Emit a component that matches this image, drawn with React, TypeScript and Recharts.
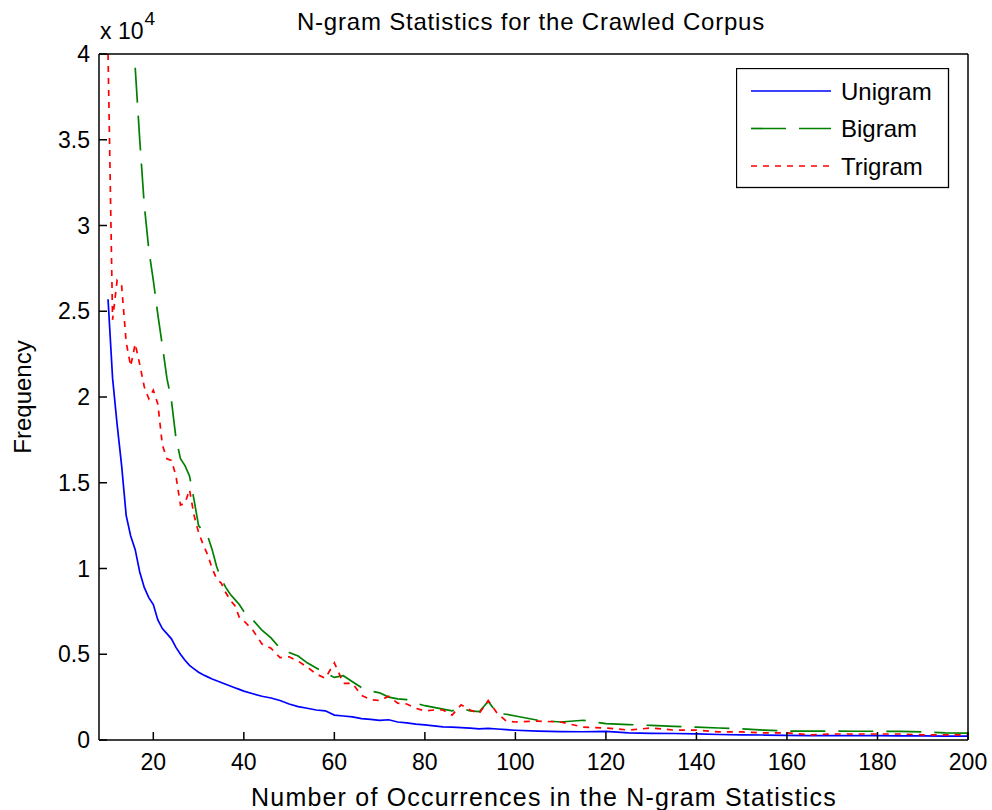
import React from "react";
import { LineChart, Line, XAxis, YAxis, Legend } from "recharts";

// Number of occurrences (x axis)
const occurrences = [
  10, 11, 12, 13, 14, 15, 16, 17, 18, 19, 20, 21, 22, 23, 24, 25, 26, 27, 28, 29, 30,
  31, 32, 33, 34, 35, 36, 37, 38, 39, 40,
  42, 44, 46, 48, 50, 52, 54, 56, 58, 60, 62, 64, 66, 68, 70, 72, 74, 76, 78, 80,
  82, 84, 86, 88, 90, 92, 94, 96, 98, 100,
  105, 110, 115, 120, 125, 130, 135, 140, 145, 150, 155, 160, 165, 170, 175, 180,
  185, 190, 195, 200,
];

// Frequency of each n-gram order
const unigram = [
  25700, 21100, 18400, 16000, 13100, 11900, 11100, 9800, 8900, 8300, 7900, 7000, 6500,
  6200, 5900, 5400, 5000, 4650, 4350, 4150, 3950, 3800, 3680, 3560, 3450, 3350, 3250,
  3150, 3050, 2950, 2850,
  2700, 2550, 2450, 2300, 2100, 1950, 1850, 1750, 1700, 1450, 1400, 1350, 1250, 1200,
  1150, 1180, 1050, 1000, 930, 880, 820, 760, 750, 720, 690, 650, 680, 640, 600, 570,
  520, 490, 480, 500, 420, 390, 380, 360, 320, 300, 290, 270, 260, 260, 250, 250, 240,
  240, 230, 230,
];

const bigram = [
  null, null, null, null, null, null,
  39200, 35000, 31200, 28600, 26800, 24800, 23000, 21100, 19800, 17600, 16400, 16000,
  15400, 14000, 12500, 12200, 11900, 11100, 10100, 9400, 8900, 8500, 8200, 7900, 7500,
  7000, 6400, 5950, 5350, 5100, 4900, 4500, 4200, 3900, 3650, 3750, 3400, 3050, 2850,
  2750, 2500, 2400, 2350, 2150, 2000, 1900, 1800, 1700, 1850, 1700, 1650, 2250, 1550,
  1500, 1400,
  1150, 1050, 1150, 950, 900, 850, 800, 750, 700, 650, 580, 520, 520, 520, 510, 510,
  500, 470, 420, 400,
];

const trigram = [
  40000, 24500, 26800, 26500, 23200, 21800, 23100, 21900, 20600, 19900, 20400, 19600,
  17200, 16400, 16300, 15400, 13700, 13800, 14600, 13100, 12100, 11400, 10800, 10000,
  9400, 9150, 8600, 8150, 7850, 7150, 6950,
  6400, 5600, 5350, 4800, 4850, 4600, 4250, 3850, 3600, 4500, 3300, 3300, 2600, 2350,
  2300, 2550, 2150, 2100, 1850, 1700, 1750, 1750, 1450, 2050, 1750, 1550, 2300, 1550,
  1100, 1050,
  1100, 1050, 750, 700, 580, 700, 580, 580, 470, 470, 410, 410, 300, 350, 350, 350, 350,
  300, 300, 300,
];

// Tick positions
const xTicks = [20, 40, 60, 80, 100, 120, 140, 160, 180, 200];
const yTicks = [0, 5000, 10000, 15000, 20000, 25000, 30000, 35000, 40000];

const chartData = occurrences.map((x, i) => ({
  x,
  unigram: unigram[i],
  bigram: bigram[i],
  trigram: trigram[i],
}));

const series = [
  { key: "unigram", name: "Unigram", color: "#0000ff", dash: undefined as string | undefined },
  { key: "bigram", name: "Bigram", color: "#008000", dash: "35 13" },
  { key: "trigram", name: "Trigram", color: "#ff0000", dash: "6 6" },
];

const FONT = "'Liberation Sans', Arial, Helvetica, sans-serif";

// MATLAB-like legend box
const LegendBox = () => (
  <svg width={214} height={121} style={{ display: "block", fontFamily: FONT }}>
    <rect x={0.5} y={0.5} width={212} height={119} fill="#fff" stroke="#000" strokeWidth={1.3} />
    {series.map((s, i) => {
      const y = 23 + i * 37.5;
      return (
        <g key={s.key}>
          <line x1={15} x2={95} y1={y} y2={y} stroke={s.color} strokeWidth={1.7} strokeDasharray={s.dash} />
          <text x={105} y={y} dominantBaseline="central" fontSize={24} fill="#000">
            {s.name}
          </text>
        </g>
      );
    })}
  </svg>
);

const XLabel = () => (
  <text x={544} y={806} textAnchor="middle" fontSize={25} letterSpacing={1.2} fill="#000">
    Number of Occurrences in the N-gram Statistics
  </text>
);

const YLabel = () => (
  <text x={31} y={397} transform="rotate(-90 31 397)" textAnchor="middle" fontSize={24} fill="#000">
    Frequency
  </text>
);

export default function App() {
  return (
    <div style={{ position: "absolute", left: 0, top: 0, width: 992, height: 810, background: "#fff", fontFamily: FONT }}>
      {/* title */}
      <div style={{ position: "absolute", left: 0, width: 1062, top: 8, textAlign: "center", fontSize: 24, lineHeight: "28px", letterSpacing: 0.8 }}>
        N-gram Statistics for the Crawled Corpus
      </div>
      {/* exponent of y axis */}
      <div style={{ position: "absolute", left: 100, top: 17, fontSize: 23, lineHeight: "28px" }}>
        x 10<span style={{ position: "relative", top: -14, fontSize: 19, marginLeft: 1 }}>4</span>
      </div>
      <LineChart width={992} height={810} data={chartData} margin={{ top: 53, right: 23, bottom: 0, left: 0 }}>
        <XAxis
          dataKey="x"
          type="number"
          domain={[8, 200]}
          ticks={xTicks}
          allowDataOverflow
          height={70}
          tickSize={-8}
          tickMargin={22}
          axisLine={{ stroke: "#000", strokeWidth: 1.5 }}
          tickLine={{ stroke: "#000", strokeWidth: 1.5 }}
          tick={{ fontSize: 23, fill: "#000" }}
          label={<XLabel />}
        />
        <XAxis
          xAxisId="top"
          orientation="top"
          dataKey="x"
          type="number"
          domain={[8, 200]}
          ticks={xTicks}
          allowDataOverflow
          height={1}
          tickSize={-8}
          tick={false}
          axisLine={{ stroke: "#000", strokeWidth: 1.5 }}
          tickLine={{ stroke: "#000", strokeWidth: 1.5 }}
        />
        <YAxis
          type="number"
          domain={[0, 40000]}
          ticks={yTicks}
          allowDataOverflow
          width={99}
          tickSize={-8}
          tickMargin={17}
          tickFormatter={(v: number) => String(v / 10000)}
          axisLine={{ stroke: "#000", strokeWidth: 1.5 }}
          tickLine={{ stroke: "#000", strokeWidth: 1.5 }}
          tick={{ fontSize: 23, fill: "#000" }}
          label={<YLabel />}
        />
        <YAxis
          yAxisId="right"
          orientation="right"
          type="number"
          domain={[0, 40000]}
          ticks={yTicks}
          allowDataOverflow
          width={1}
          tickSize={-8}
          tick={false}
          axisLine={{ stroke: "#000", strokeWidth: 1.5 }}
          tickLine={{ stroke: "#000", strokeWidth: 1.5 }}
        />
        <Legend
          layout="vertical"
          verticalAlign="middle"
          align="center"
          content={<LegendBox />}
          wrapperStyle={{ left: 736, top: 68, width: 214, height: 121 }}
        />
        {series.map((s) => (
          <Line
            key={s.key}
            type="linear"
            dataKey={s.key}
            name={s.name}
            stroke={s.color}
            strokeWidth={1.7}
            strokeDasharray={s.dash}
            dot={false}
            activeDot={false}
            isAnimationActive={false}
          />
        ))}
      </LineChart>
    </div>
  );
}
